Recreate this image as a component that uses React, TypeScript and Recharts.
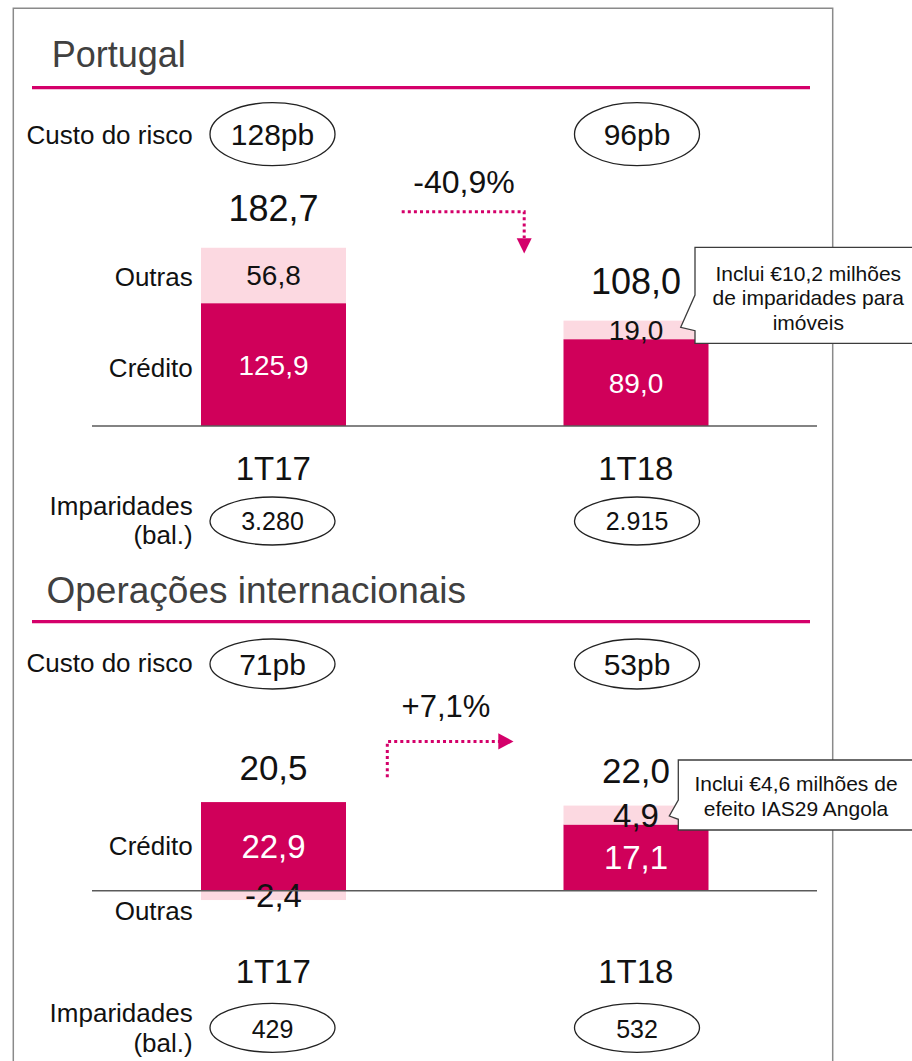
import React from 'react';
import { BarChart, Bar, XAxis, YAxis, ReferenceLine } from 'recharts';

// Periods and values (EUR millions)
const periods = ['1T17', '1T18'];
const ptCredito = [125.9, 89.0];
const ptOutras = [56.8, 19.0];
const intCredito = [22.9, 17.1];
const intOutras = [-2.4, 4.9];

// Side indicators
const ptCustoRisco = ['128pb', '96pb'];
const intCustoRisco = ['71pb', '53pb'];
const ptImparidades = ['3.280', '2.915'];
const intImparidades = ['429', '532'];
const ptVariation = '-40,9%';
const intVariation = '+7,1%';
const ptNote = ['Inclui €10,2 milhões', 'de imparidades para', 'imóveis'];
const intNote = ['Inclui €4,6 milhões de', 'efeito IAS29 Angola'];

const FONT = '"Liberation Sans", Arial, sans-serif';
const DARK = '#D0005A';
const LIGHT = '#FCD9E1';
const ACCENT = '#D4006A';
const FRAME = '#8a8a8a';
const TEXT = '#111111';

const fmt = (v: number) => v.toFixed(1).replace('.', ',');
const buildRows = (credito: number[], outras: number[]) =>
  periods.map((p, i) => ({ period: p, credito: credito[i], outras: outras[i] }));

const ptRows = buildRows(ptCredito, ptOutras);
const intRows = buildRows(intCredito, intOutras);

// Baseline offset so that a font-size-fs glyph row is vertically centred on cy
const mid = (cy: number, fs: number) => cy + fs * 0.358;

function creditoShape(fs: number, totalFs: number, totalGap: number) {
  return (props: any) => {
    const { x, y, width, height, payload } = props;
    const top = Math.min(y, y + height);
    const h = Math.abs(height);
    const ppu = h / Math.abs(payload.credito);
    const stackTop = top - Math.max(0, payload.outras) * ppu;
    const total = payload.credito + payload.outras;
    const cx = x + width / 2;
    return (
      <g>
        <rect x={x} y={top} width={width} height={h} fill={DARK} />
        <text x={cx} y={mid(top + h / 2, fs)} textAnchor="middle" fontSize={fs} fill="#ffffff" fontFamily={FONT}>
          {fmt(payload.credito)}
        </text>
        <text x={cx} y={mid(stackTop - totalGap, totalFs)} textAnchor="middle" fontSize={totalFs} fill={TEXT} fontFamily={FONT}>
          {fmt(total)}
        </text>
      </g>
    );
  };
}

function outrasShape(fs: number) {
  return (props: any) => {
    const { x, y, width, height, payload } = props;
    const top = Math.min(y, y + height);
    const h = Math.abs(height);
    const cx = x + width / 2;
    return (
      <g>
        <rect x={x} y={top} width={width} height={h} fill={LIGHT} />
        <text x={cx} y={mid(top + h / 2, fs)} textAnchor="middle" fontSize={fs} fill={TEXT} fontFamily={FONT}>
          {fmt(payload.outras)}
        </text>
      </g>
    );
  };
}

function periodTick(dy: number) {
  return (props: any) => {
    const { x, y, payload } = props;
    return (
      <text x={x} y={y + dy} textAnchor="middle" fontSize={33} fill={TEXT} fontFamily={FONT}>
        {payload.value}
      </text>
    );
  };
}

const catX = [272.5, 637];

function Decorations() {
  const label = (x: number, y: number, s: string, fs = 26, anchor: any = 'end') => (
    <text x={x} y={y} textAnchor={anchor} fontSize={fs} fill={TEXT} fontFamily={FONT}>
      {s}
    </text>
  );
  return (
    <svg width={912} height={1061} style={{ position: 'absolute', left: 0, top: 0 }}>
      <path d="M13.3 1061 V8.3 H832.7 V1061" fill="none" stroke={FRAME} strokeWidth={1.5} />

      {/* Portugal */}
      <text x={51.7} y={66.7} fontSize={36} fill="#404040" fontFamily={FONT}>Portugal</text>
      <line x1={32} x2={810} y1={87.7} y2={87.7} stroke={ACCENT} strokeWidth={3.2} />
      {label(192.7, 144, 'Custo do risco')}
      {ptCustoRisco.map((s, i) => (
        <g key={s}>
          <ellipse cx={catX[i]} cy={134.2} rx={62.5} ry={31.5} fill="none" stroke="#222" strokeWidth={1.3} />
          {label(catX[i], mid(134.7, 30), s, 30, 'middle')}
        </g>
      ))}
      {label(464, 193.3, ptVariation, 32, 'middle')}
      <path d="M401.7 211.7 H524.2 V238" fill="none" stroke={ACCENT} strokeWidth={3} strokeDasharray="3 3.1" />
      <polygon points="516.7,238.3 531.7,238.3 524.2,253.5" fill={ACCENT} />
      {label(192.7, 285.7, 'Outras')}
      {label(192.7, 377.3, 'Crédito')}
      {label(192.7, 515, 'Imparidades')}
      {label(192.7, 544.4, '(bal.)')}
      {ptImparidades.map((s, i) => (
        <g key={s}>
          <ellipse cx={catX[i]} cy={521} rx={62.5} ry={24} fill="none" stroke="#222" strokeWidth={1.3} />
          {label(catX[i], mid(521, 25), s, 25, 'middle')}
        </g>
      ))}

      {/* Operações internacionais */}
      <text x={46.5} y={603.3} fontSize={37} fill="#404040" fontFamily={FONT}>Operações internacionais</text>
      <line x1={32} x2={810} y1={621.7} y2={621.7} stroke={ACCENT} strokeWidth={3.2} />
      {label(192.7, 672.3, 'Custo do risco')}
      {intCustoRisco.map((s, i) => (
        <g key={s}>
          <ellipse cx={catX[i]} cy={664} rx={62.5} ry={25} fill="none" stroke="#222" strokeWidth={1.3} />
          {label(catX[i], mid(664, 30), s, 30, 'middle')}
        </g>
      ))}
      {label(446, 716.7, intVariation, 31, 'middle')}
      <path d="M387.3 777.3 V741.5 H499" fill="none" stroke={ACCENT} strokeWidth={3} strokeDasharray="3 3.1" />
      <polygon points="498.3,733.3 498.3,749.5 513.5,741.5" fill={ACCENT} />
      {label(192.7, 855, 'Crédito')}
      {label(192.7, 920, 'Outras')}
      {label(192.7, 1022.3, 'Imparidades')}
      {label(192.7, 1051.7, '(bal.)')}
      {intImparidades.map((s, i) => (
        <g key={s}>
          <ellipse cx={catX[i]} cy={1027.8} rx={62.5} ry={24.5} fill="none" stroke="#222" strokeWidth={1.3} />
          {label(catX[i], mid(1029, 25), s, 25, 'middle')}
        </g>
      ))}
    </svg>
  );
}

function Callouts() {
  const note = (lines: string[], cx: number, baselines: number[]) =>
    lines.map((s, i) => (
      <text key={s} x={cx} y={baselines[i]} textAnchor="middle" fontSize={21} fill={TEXT} fontFamily={FONT}>
        {s}
      </text>
    ));
  return (
    <svg width={912} height={1061} style={{ position: 'absolute', left: 0, top: 0, pointerEvents: 'none' }}>
      <path
        d="M695 247.3 H930 V343.3 H695 V330.7 L680.7 327.3 L695 295 Z"
        fill="#ffffff"
        stroke="#3c3c3c"
        strokeWidth={1.3}
      />
      {note(ptNote, 808.3, [281, 305, 329.5])}
      <path
        d="M678.3 760 H930 V830 H678.3 V819.3 L669.3 816 L678.3 800 Z"
        fill="#ffffff"
        stroke="#3c3c3c"
        strokeWidth={1.3}
      />
      {note(intNote, 796, [790.8, 815.8])}
    </svg>
  );
}

export default function App() {
  return (
    <div style={{ position: 'absolute', left: 0, top: 0, width: 912, height: 1061, background: '#ffffff', fontFamily: FONT }}>
      <Decorations />
      <div style={{ position: 'absolute', left: 0, top: 0 }}>
        <BarChart width={912} height={560} data={ptRows} stackOffset="sign" margin={{ top: 226, right: 95, bottom: 74, left: 92 }}>
          <XAxis dataKey="period" height={60} axisLine={false} tickLine={false} tickSize={0} tickMargin={0} interval={0} tick={periodTick(53.5)} />
          <YAxis hide domain={[0, 205]} />
          <Bar dataKey="credito" stackId="s" barSize={145} isAnimationActive={false} shape={creditoShape(28, 36, 39.5)} />
          <Bar dataKey="outras" stackId="s" barSize={145} isAnimationActive={false} shape={outrasShape(28)} />
          <ReferenceLine y={0} stroke="#5a5a5a" strokeWidth={1.5} />
        </BarChart>
      </div>
      <div style={{ position: 'absolute', left: 0, top: 560 }}>
        <BarChart width={912} height={501} data={intRows} stackOffset="sign" margin={{ top: 214.6, right: 95, bottom: 90.9, left: 92 }}>
          <XAxis dataKey="period" height={60} axisLine={false} tickLine={false} tickSize={0} tickMargin={0} interval={0} tick={periodTick(72.5)} />
          <YAxis hide domain={[-5, 30]} />
          <Bar dataKey="credito" stackId="s" barSize={145} isAnimationActive={false} shape={creditoShape(33, 35, 35)} />
          <Bar dataKey="outras" stackId="s" barSize={145} isAnimationActive={false} shape={outrasShape(33)} />
          <ReferenceLine y={0} stroke="#5a5a5a" strokeWidth={1.5} />
        </BarChart>
      </div>
      <Callouts />
    </div>
  );
}
